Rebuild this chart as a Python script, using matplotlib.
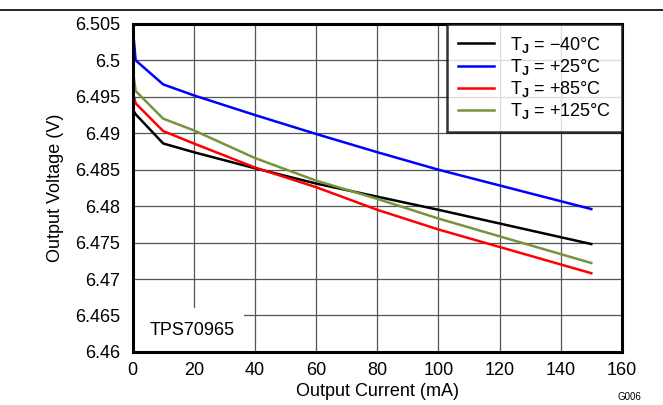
import matplotlib
matplotlib.use("Agg")
import matplotlib.pyplot as plt
from matplotlib.lines import Line2D
from matplotlib.patches import Rectangle

plt.rcParams["font.family"] = ["Liberation Sans", "DejaVu Sans"]
plt.rcParams["mathtext.default"] = "regular"
plt.rcParams["mathtext.fontset"] = "custom"
plt.rcParams["mathtext.rm"] = "Liberation Sans"
plt.rcParams["mathtext.bf"] = "Liberation Sans:bold"

current = [0, 1, 10, 20, 40, 60, 80, 100, 150]
v_m40 = [6.4933, 6.4926, 6.4886, 6.4874, 6.4852, 6.4831, 6.4813, 6.4795, 6.4748]
v_25 = [6.5048, 6.5000, 6.4967, 6.4952, 6.4925, 6.4899, 6.4874, 6.4850, 6.4796]
v_85 = [6.4957, 6.4941, 6.4903, 6.4886, 6.4853, 6.4826, 6.4795, 6.4768, 6.4708]
v_125 = [6.4989, 6.4958, 6.4920, 6.4904, 6.4866, 6.4835, 6.4810, 6.4783, 6.4722]

series = [
    (v_m40, "black", "T$_\\mathbf{J}$ = \u221240\u00b0C"),
    (v_25, "#0000ff", "T$_\\mathbf{J}$ = +25\u00b0C"),
    (v_85, "#ff0000", "T$_\\mathbf{J}$ = +85\u00b0C"),
    (v_125, "#77933c", "T$_\\mathbf{J}$ = +125\u00b0C"),
]

xticks = [0, 20, 40, 60, 80, 100, 120, 140, 160]
yticks = [6.46, 6.465, 6.47, 6.475, 6.48, 6.485, 6.49, 6.495, 6.5, 6.505]
ylabels = ["6.46", "6.465", "6.47", "6.475", "6.48", "6.485", "6.49", "6.495", "6.5", "6.505"]

fig = plt.figure(figsize=(6.63, 4.05), dpi=100)
ax = fig.add_axes([0.2, 0.131, 0.738, 0.81])

for vals, col, lab in series:
    ax.plot(current, vals, color=col, lw=1.8, label=lab, zorder=3)

ax.set_xlim(0, 160)
ax.set_ylim(6.46, 6.505)
ax.set_xticks(xticks)
ax.set_yticks(yticks)
ax.set_yticklabels(ylabels)
ax.tick_params(length=0, labelsize=13, pad=9)
ax.tick_params(axis="x", pad=7)
ax.set_axisbelow(True)
ax.grid(True, color="#555555", lw=0.9, zorder=0.5)
for s in ax.spines.values():
    s.set_linewidth(2.2)
    s.set_zorder(4)

# white patch behind the device label
ax.add_patch(Rectangle((0, 0), 0.227, 0.134, transform=ax.transAxes,
                       facecolor="white", edgecolor="none", zorder=1))
ax.text(0.034, 0.065, "TPS70965", transform=ax.transAxes, fontsize=13,
        va="center", ha="left", zorder=2)

ax.set_xlabel("Output Current (mA)", fontsize=13, labelpad=3)
ax.set_ylabel("Output Voltage (V)", fontsize=13, labelpad=8)

leg = ax.legend(loc="upper right", fontsize=13, frameon=True, fancybox=False,
                borderaxespad=0, handlelength=2.0, handletextpad=0.9,
                labelspacing=0.12, borderpad=0.6)
leg.get_frame().set_edgecolor("black")
leg.get_frame().set_linewidth(1.8)
leg.set_zorder(5)

fig.add_artist(Line2D([0, 1], [1 - 10 / 405, 1 - 10 / 405], color="black", lw=1.2))
fig.text(0.968, 0.008, "G006", fontsize=7, ha="right", va="bottom")

fig.savefig("out.png", dpi=100)
